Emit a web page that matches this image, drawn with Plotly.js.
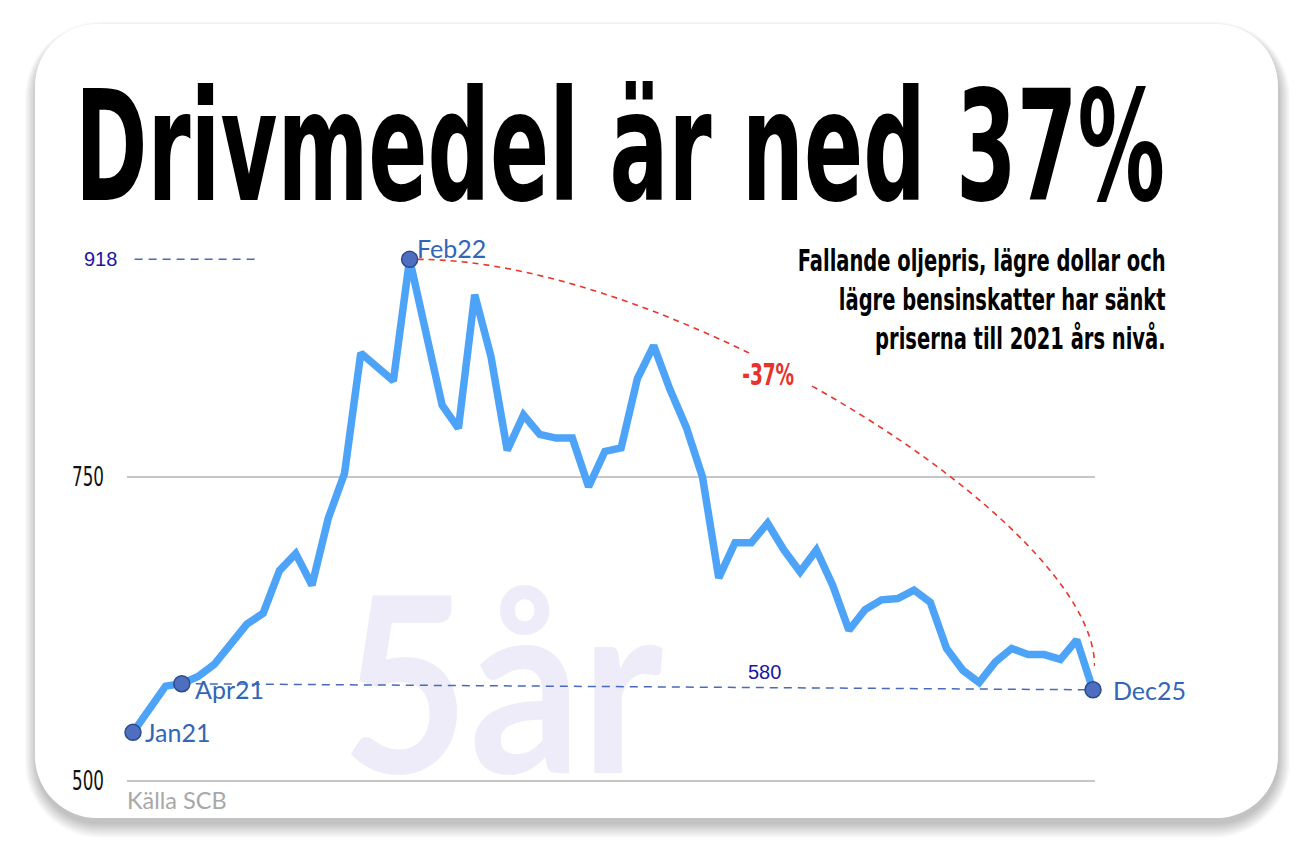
<!DOCTYPE html>
<html><head><meta charset="utf-8">
<script src="https://cdn.plot.ly/plotly-3.0.1.min.js"></script>
<style>html,body{margin:0;padding:0;background:#fff;}#chart{width:1310px;height:852px;}</style>
</head><body><div id="chart"></div>
<script>
// ---- data (monthly fuel price index, Jan 2021 .. Dec 2025) ----
const values = [540, 560, 578, 580, 586, 596, 613, 629, 638, 673,
                687, 661, 716, 753, 852, 841, 829, 929, 871, 809,
                790, 900, 849, 772, 801, 785, 782, 782, 742, 771,
                774, 831, 858, 822, 791, 750, 667, 696, 696, 712,
                690, 672, 690, 661, 624, 641, 649, 650, 657, 647,
                609, 591, 581, 598, 609, 604, 604, 600, 616, 575];
const markerIdx = [0, 3, 17, 59];
const markerLabels = ['Jan21', 'Apr21', 'Feb22', 'Dec25'];
const yTickVals = [500, 750];
const yTickText = ['500', '750'];
const peakLabel = '918';
const lowLabel = '580';
const changeLabel = '-37%';
const titleText = 'Drivmedel är ned 37%';
const subtitleLines = ['Fallande oljepris, lägre dollar och', 'lägre bensinskatter har sänkt', 'priserna till 2021 års nivå.'];
const sourceText = 'Källa SCB';
const watermarkText = '5år';

// ---- layout helpers ----
const W = 1310, H = 852, M = {l: 127, r: 215, t: 240, b: 67};
const pw = W - M.l - M.r, ph = H - M.t - M.b;
const px = x => (x - M.l) / pw;
const py = y => (M.t + ph - y) / ph;
const NARROW = '"Liberation Sans Narrow", "Arial Narrow", "DejaVu Sans Condensed", sans-serif';
const HUMAN = 'Lato, "Open Sans", sans-serif';

function roundRect(x0, y0, x1, y1, r) {
  const k = 0.5523 * r;
  const P = (x, y) => px(x).toFixed(5) + ',' + py(y).toFixed(5);
  return 'M' + P(x0 + r, y0) + ' L' + P(x1 - r, y0) +
    ' C' + P(x1 - r + k, y0) + ' ' + P(x1, y0 + r - k) + ' ' + P(x1, y0 + r) +
    ' L' + P(x1, y1 - r) +
    ' C' + P(x1, y1 - r + k) + ' ' + P(x1 - r + k, y1) + ' ' + P(x1 - r, y1) +
    ' L' + P(x0 + r, y1) +
    ' C' + P(x0 + r - k, y1) + ' ' + P(x0, y1 - r + k) + ' ' + P(x0, y1 - r) +
    ' L' + P(x0, y0 + r) +
    ' C' + P(x0, y0 + r - k) + ' ' + P(x0 + r - k, y0) + ' ' + P(x0 + r, y0) + ' Z';
}

const card = {x0: 35, y0: 24, x1: 1278, y1: 818, r: 62};
const shapes = [];
for (let k = 14; k >= 0; k--) {
  const e = k * 1.0;
  shapes.push({type: 'path', xref: 'paper', yref: 'paper', layer: 'below',
    path: roundRect(card.x0 + 1 - e * 0.8, card.y0 + 6 - e * 0.6, card.x1 + 1 + e * 0.8, card.y1 + 6 + e, card.r + e),
    fillcolor: 'rgba(0,0,0,0.016)', line: {width: 0}});
}
shapes.push({type: 'path', xref: 'paper', yref: 'paper', layer: 'below',
  path: roundRect(card.x0, card.y0, card.x1, card.y1, card.r),
  fillcolor: '#ffffff', line: {width: 0}});

const peakI = markerIdx[2], lastI = values.length - 1;
const peakV = values[peakI], lastV = values[lastI];
// red dashed arc from peak to last point
const span = peakV - lastV;
const arc = 'M ' + (peakI + 0.5) + ',' + peakV +
  ' C ' + (peakI + 16) + ',' + peakV + ' ' + (lastI + 0.1) + ',' + (lastV + 0.39 * span) +
  ' ' + (lastI + 0.1) + ',' + (lastV + 0.055 * span);
shapes.push({type: 'path', xref: 'x', yref: 'y', path: arc,
  line: {color: '#e8362d', width: 1.6, dash: '6px,5px'}});
// blue dashed reference at peak level
shapes.push({type: 'line', xref: 'x', yref: 'y', x0: 0.1, x1: 7.5, y0: peakV, y1: peakV,
  line: {color: '#4a68bd', width: 1.5, dash: '8px,6px'}});

const xs = values.map((_, i) => i);

const traces = [
  {x: [22.7], y: [557], mode: 'text', text: [watermarkText], cliponaxis: false,
   textfont: {family: HUMAN, size: 245, color: '#edecf8', weight: 700},
   hoverinfo: 'skip', showlegend: false},
  {x: [markerIdx[1], markerIdx[3]], y: [values[markerIdx[1]], values[markerIdx[3]]], mode: 'lines',
   line: {color: '#4a68bd', width: 1.5, dash: '8px,6px'}, hoverinfo: 'skip', showlegend: false},
  {x: xs, y: values, mode: 'lines', line: {color: '#4da3f7', width: 7.5}, showlegend: false},
  {x: markerIdx, y: markerIdx.map(i => values[i]), mode: 'markers', cliponaxis: false,
   marker: {size: 16, color: '#4e6fc0', line: {color: '#2d4a8a', width: 1.5}}, showlegend: false}
];

const labelShift = [{xs: 10, ys: 0}, {xs: 11, ys: -5}, {xs: 5, ys: 11}, {xs: 18, ys: 0}];
const annotations = [
  {xref: 'paper', yref: 'paper', x: px(620), y: py(146), xanchor: 'center', yanchor: 'middle',
   text: titleText, showarrow: false,
   font: {family: NARROW, size: 154, color: '#000', weight: 700}},
  {xref: 'paper', yref: 'paper', x: px(1168), y: py(299), xanchor: 'right', yanchor: 'middle', align: 'right',
   text: subtitleLines.join('<br>'), showarrow: false,
   font: {family: NARROW, size: 30, color: '#000', weight: 700}},
  {xref: 'x', yref: 'y', x: 39, y: 835, xanchor: 'center', yanchor: 'middle',
   text: changeLabel, showarrow: false, bgcolor: '#ffffff', borderpad: 2,
   font: {family: NARROW, size: 31, color: '#e8322a', weight: 700}},
  {xref: 'paper', yref: 'y', x: px(100), y: peakV, xanchor: 'center', yanchor: 'middle',
   text: peakLabel, showarrow: false,
   font: {family: '"Liberation Sans", Arial, sans-serif', size: 20, color: '#1c14a0'}},
  {xref: 'x', yref: 'y', x: 38.8, y: values[markerIdx[1]], xanchor: 'center', yanchor: 'middle', yshift: 12,
   text: lowLabel, showarrow: false,
   font: {family: '"Liberation Sans", Arial, sans-serif', size: 20, color: '#1c14a0'}},
  {xref: 'paper', yref: 'paper', x: px(125), y: py(800), xanchor: 'left', yanchor: 'middle',
   text: sourceText, showarrow: false,
   font: {family: HUMAN, size: 23.5, color: '#a8a8a8'}}
];
markerIdx.forEach((idx, k) => {
  annotations.push({xref: 'x', yref: 'y', x: idx, y: values[idx], xanchor: 'left', yanchor: 'middle',
    xshift: labelShift[k].xs, yshift: labelShift[k].ys, text: markerLabels[k], showarrow: false,
    font: {family: HUMAN, size: 25, color: '#3366b8'}});
});

const layout = {
  width: W, height: H, margin: M, autosize: false,
  paper_bgcolor: '#ffffff', plot_bgcolor: 'rgba(0,0,0,0)',
  showlegend: false,
  xaxis: {range: [-0.369, 59.123], showgrid: false, zeroline: false, showline: false,
          showticklabels: false, ticks: '', fixedrange: true},
  yaxis: {range: [496.71, 944.9], tickvals: yTickVals, ticktext: yTickText,
          showgrid: true, gridcolor: '#c6c6c6', gridwidth: 1.5, zeroline: false, showline: false,
          ticks: '', ticklabelstandoff: 22,
          tickfont: {family: NARROW, size: 27, color: '#111'}, fixedrange: true},
  shapes: shapes,
  annotations: annotations
};

function squeeze(t, target, anchor) {
  if (!t) return;
  const bb = t.getBBox();
  if (!bb.width) return;
  const s = target / bb.width;
  const ax = anchor === 'left' ? bb.x : anchor === 'right' ? bb.x + bb.width : bb.x + bb.width / 2;
  const prev = t.getAttribute('transform') || '';
  t.setAttribute('transform', prev + ' translate(' + ax + ',0) scale(' + s + ',1) translate(' + (-ax) + ',0)');
}

Plotly.newPlot('chart', traces, layout, {staticPlot: true, displayModeBar: false}).then(gd => {
  const ann = i => gd.querySelector('.annotation[data-index="' + i + '"] text');
  squeeze(ann(0), 1090, 'center');
  squeeze(ann(1), 368, 'right');
  squeeze(ann(2), 52, 'center');
  gd.querySelectorAll('.ytick text').forEach(t => squeeze(t, 32, 'right'));
  const wm = gd.querySelector('.scatterlayer .trace .textpoint text');
  squeeze(wm, 322, 'center');
});
</script></body></html>
